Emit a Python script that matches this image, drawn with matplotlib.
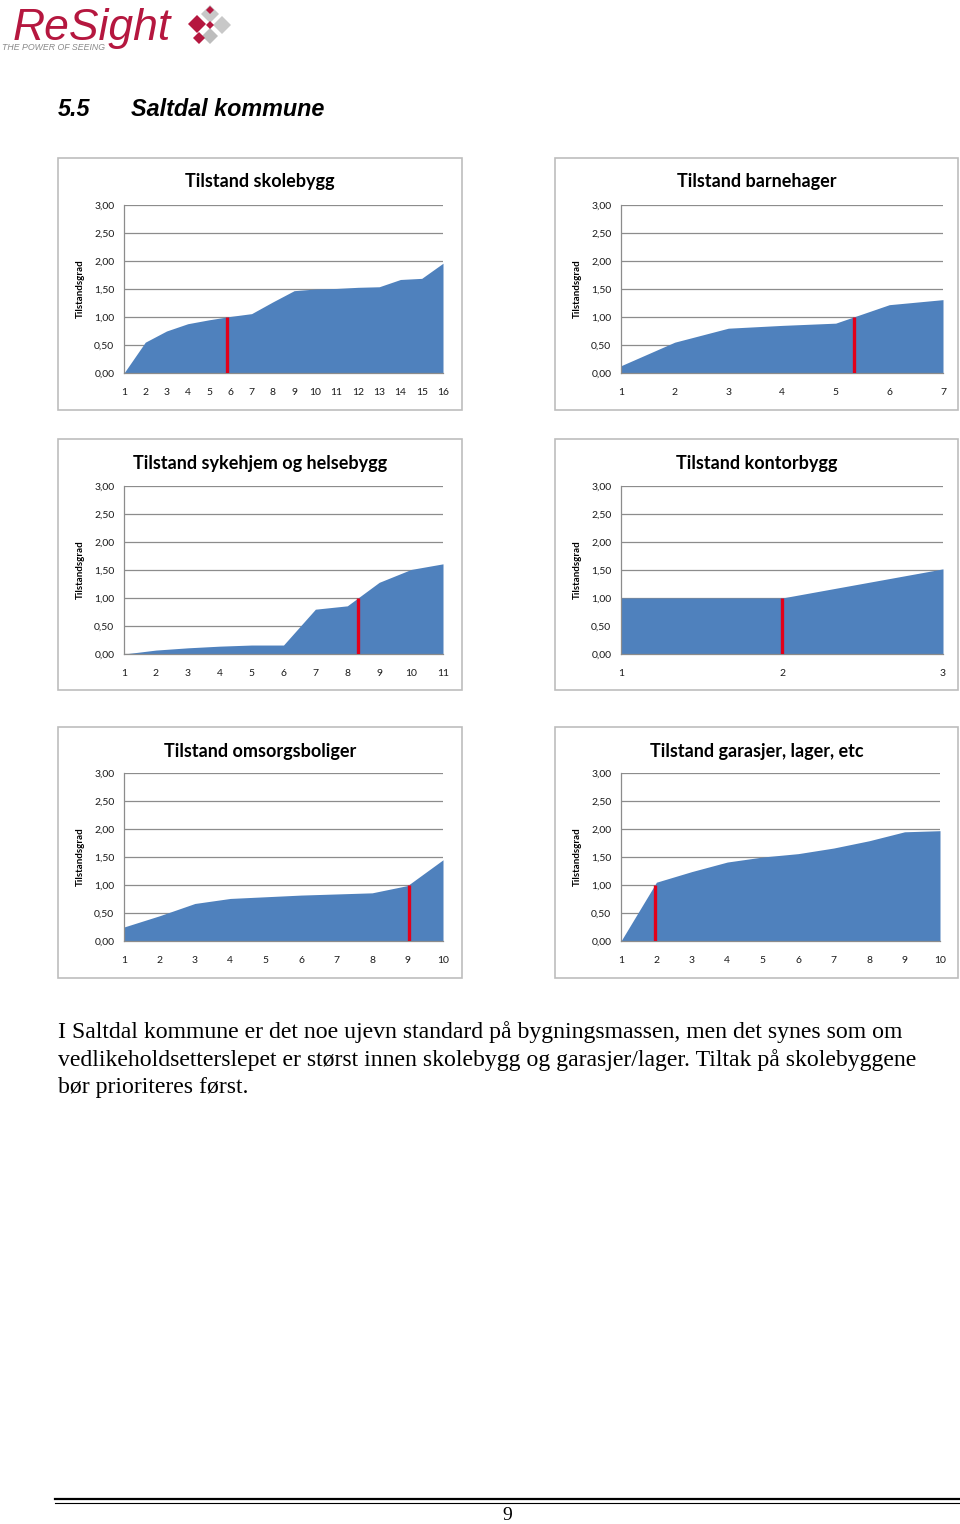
import matplotlib
matplotlib.use("Agg")
import matplotlib.pyplot as plt
from matplotlib.patches import Rectangle, Polygon
import numpy as np

# ---------------- data ----------------
titles = ["Tilstand skolebygg", "Tilstand barnehager",
          "Tilstand sykehjem og helsebygg", "Tilstand kontorbygg",
          "Tilstand omsorgsboliger", "Tilstand garasjer, lager, etc"]

skolebygg = [0.00, 0.55, 0.75, 0.88, 0.95, 1.01, 1.06, 1.27, 1.47, 1.50,
             1.51, 1.53, 1.54, 1.67, 1.69, 1.96]
barnehager = [0.13, 0.55, 0.80, 0.85, 0.89, 1.22, 1.31]
sykehjem = [0.00, 0.07, 0.11, 0.14, 0.16, 0.16, 0.80, 0.86, 1.28, 1.51, 1.61]
kontorbygg = [1.00, 1.00, 1.52]
omsorgsboliger = [0.25, 0.45, 0.67, 0.76, 0.79, 0.82, 0.84, 0.86, 0.99, 1.45]
garasjer = [0.00, 1.05, 1.24, 1.41, 1.50, 1.56, 1.66, 1.79, 1.95, 1.97]

series = [skolebygg, barnehager, sykehjem, kontorbygg, omsorgsboliger, garasjer]
red_x = [5.85, 5.35, 8.35, 2.00, 9.05, 1.97]   # position of red threshold marker
red_level = [1.00, 1.00, 1.00, 1.00, 1.00, 1.00]

y_ticks = [0.0, 0.5, 1.0, 1.5, 2.0, 2.5, 3.0]
y_ticklabels = ["0,00", "0,50", "1,00", "1,50", "2,00", "2,50", "3,00"]
y_label = "Tilstandsgrad"

heading_num = "5.5"
heading_txt = "Saltdal kommune"
body_lines = [
    "I Saltdal kommune er det noe ujevn standard på bygningsmassen, men det synes som om",
    "vedlikeholdsetterslepet er størst innen skolebygg og garasjer/lager. Tiltak på skolebyggene",
    "bør prioriteres først.",
]
page_no = "9"

# ---------------- layout (pixels) ----------------
W, H = 960, 1524
fig = plt.figure(figsize=(W / 100, H / 100), dpi=100)

def fx(x):
    return x / W

def fy(y):
    return 1 - y / H

rows = [(373, 205, 158, 410), (654, 486, 439, 690), (941, 773, 727, 978)]
cols = [(124, 443, 58, 462), (621, 943, 555, 958)]
right_override = {5: 940}

BLUE = "#4F81BD"
RED = "#E2001A"
GRID = "#8C8C8C"
TFONT = ["Lato", "DejaVu Sans"]

for i, (title, vals) in enumerate(zip(titles, series)):
    r, c = divmod(i, 2)
    y0, y3, bt, bb = rows[r]
    xl, xr, bl, br = cols[c]
    xr = right_override.get(i, xr)

    fig.patches.append(Rectangle((fx(bl), fy(bb)), fx(br - bl), (bb - bt) / H,
                                 transform=fig.transFigure, fill=False,
                                 edgecolor="#BDBDBD", linewidth=1.2))

    ax = fig.add_axes([fx(xl), fy(y0), fx(xr - xl), (y0 - y3) / H])
    x = np.arange(1, len(vals) + 1)
    ax.set_xlim(1, len(vals))
    ax.set_ylim(0, 3)
    ax.set_yticks(y_ticks)
    ax.set_yticklabels(y_ticklabels)
    ax.set_xticks(x)
    ax.set_xticklabels([str(v) for v in x])
    ax.grid(axis="y", color=GRID, linewidth=0.9)
    ax.set_axisbelow(True)
    ax.fill_between(x, vals, 0, color=BLUE, linewidth=0, zorder=2)
    ax.plot([red_x[i], red_x[i]], [0, red_level[i]], color=RED,
            linewidth=2.4, zorder=3, solid_capstyle="butt")
    for s in ["top", "right"]:
        ax.spines[s].set_visible(False)
    ax.spines["left"].set_color(GRID)
    ax.spines["left"].set_linewidth(0.9)
    ax.spines["bottom"].set_color(GRID)
    ax.spines["bottom"].set_linewidth(0.9)
    ax.tick_params(length=0, labelsize=7.5, colors="#1a1a1a")
    ax.tick_params(axis="y", pad=7)
    ax.tick_params(axis="x", pad=10.5)
    for lab in ax.get_xticklabels() + ax.get_yticklabels():
        lab.set_family(TFONT)
    ax.set_facecolor("none")

    fig.text(fx((bl + br) / 2), fy(bt + 24), title, ha="center", va="center",
             fontsize=13, fontweight="bold", family=TFONT, color="#000000")
    fig.text(fx(bl + 22), fy((y0 + y3) / 2), y_label, rotation=90,
             ha="center", va="center", fontsize=7, fontweight="bold",
             family=TFONT, color="#000000")

# ---------------- header / logo ----------------
fig.text(fx(13), fy(40), "ReSight", fontsize=32, style="italic",
         color="#B5173F", family=["Liberation Sans", "DejaVu Sans"],
         ha="left", va="baseline")
fig.text(fx(2), fy(50), "THE POWER OF SEEING", fontsize=6.3, style="italic",
         color="#8A8A8A", family=["Liberation Sans", "DejaVu Sans"],
         ha="left", va="baseline")

def diamond(cx, cy, s, color):
    pts = [(fx(cx), fy(cy - s)), (fx(cx + s), fy(cy)),
           (fx(cx), fy(cy + s)), (fx(cx - s), fy(cy))]
    fig.patches.append(Polygon(pts, closed=True, transform=fig.transFigure,
                               facecolor=color, edgecolor="none"))

diamond(210, 14, 9, "#C8C8C8")
diamond(222, 25, 9, "#C8C8C8")
diamond(210, 36, 8, "#BDBDBD")
diamond(197, 24, 9, "#B5173F")
diamond(210, 25, 4, "#B5173F")
diamond(199, 38, 6, "#B5173F")
diamond(210, 10, 4, "#B5173F")

fig.text(fx(58), fy(110), heading_num, fontsize=16.8, fontweight="bold",
         style="italic", family=["Liberation Sans", "DejaVu Sans"],
         ha="left", va="center")
fig.text(fx(131), fy(110), heading_txt, fontsize=16.8, fontweight="bold",
         style="italic", family=["Liberation Sans", "DejaVu Sans"],
         ha="left", va="center")

# ---------------- body text ----------------
for k, line in enumerate(body_lines):
    fig.text(fx(58), fy(1032 + 28 * k), line, fontsize=17.1,
             family=["Liberation Serif", "DejaVu Serif"], ha="left", va="center")

# ---------------- footer ----------------
fig.add_artist(plt.Line2D([fx(55), fx(960)], [fy(1499), fy(1499)],
                          transform=fig.transFigure, color="#000000", linewidth=1.6))
fig.add_artist(plt.Line2D([fx(55), fx(960)], [fy(1503), fy(1503)],
                          transform=fig.transFigure, color="#000000", linewidth=0.8))
fig.text(fx(507), fy(1515), page_no, fontsize=14,
         family=["Liberation Serif", "DejaVu Serif"], ha="center", va="center")

fig.savefig("out.png", dpi=100, facecolor="white")
